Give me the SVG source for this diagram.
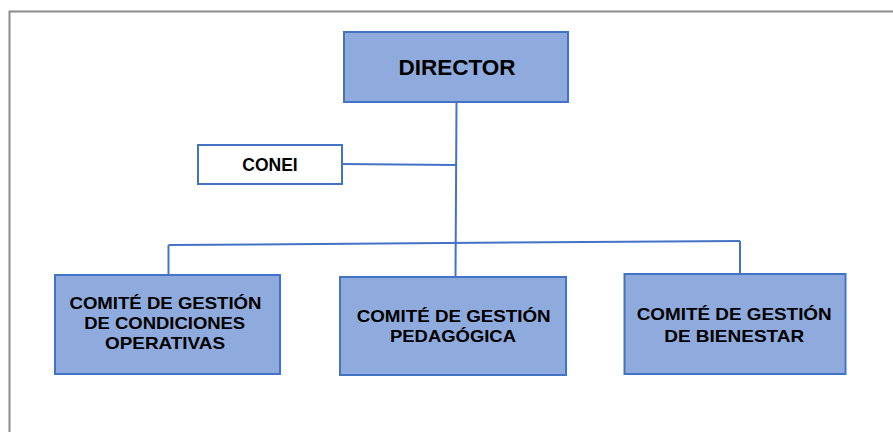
<svg xmlns="http://www.w3.org/2000/svg" width="893" height="432" viewBox="0 0 893 432">
<style>
.box{fill:#8FAADC;stroke:#4472C4;stroke-width:2}
.wbox{fill:#ffffff;stroke:#4472C4;stroke-width:2}
.ln{fill:none;stroke:#4472C4;stroke-width:2}
.t{font-family:"Liberation Sans",Arial,sans-serif;font-weight:bold;fill:#000;text-anchor:middle}
.s{font-size:17px}
</style>
<rect width="893" height="432" fill="#ffffff"/>
<path d="M9.5,432 V11.5 H893" fill="none" stroke="#8c8c8c" stroke-width="2"/>
<g id="connectors">
<path class="ln" d="M456.5,102 L455.5,276"/>
<path class="ln" d="M342,164 L456,165"/>
<path class="ln" d="M168.5,245 L740,241"/>
<path class="ln" d="M168.5,245 V275"/>
<path class="ln" d="M740,241 V274"/>
</g>
<g id="director">
<rect class="box" x="344" y="32" width="224" height="70"/>
<text class="t" x="457" y="74.5" font-size="22.5">DIRECTOR</text>
</g>
<g id="conei">
<rect class="wbox" x="198" y="145" width="144" height="39"/>
<text class="t" x="270" y="171" font-size="17.5">CONEI</text>
</g>
<g id="comite-condiciones">
<rect class="box" x="55" y="275" width="225" height="99"/>
<text class="t s" x="165.5" y="309" textLength="192" lengthAdjust="spacingAndGlyphs">COMITÉ DE GESTIÓN</text>
<text class="t s" x="164.7" y="329" textLength="161" lengthAdjust="spacingAndGlyphs">DE CONDICIONES</text>
<text class="t s" x="165" y="349" textLength="120" lengthAdjust="spacingAndGlyphs">OPERATIVAS</text>
</g>
<g id="comite-pedagogica">
<rect class="box" x="340" y="277" width="226" height="98"/>
<text class="t s" x="453.7" y="321.5" textLength="194" lengthAdjust="spacingAndGlyphs">COMITÉ DE GESTIÓN</text>
<text class="t s" x="453" y="341.5" textLength="126" lengthAdjust="spacingAndGlyphs">PEDAGÓGICA</text>
</g>
<g id="comite-bienestar">
<rect class="box" x="624.5" y="274" width="221" height="100"/>
<text class="t s" x="734.2" y="320" textLength="195" lengthAdjust="spacingAndGlyphs">COMITÉ DE GESTIÓN</text>
<text class="t s" x="734.2" y="341.5" textLength="140" lengthAdjust="spacingAndGlyphs">DE BIENESTAR</text>
</g>
</svg>
